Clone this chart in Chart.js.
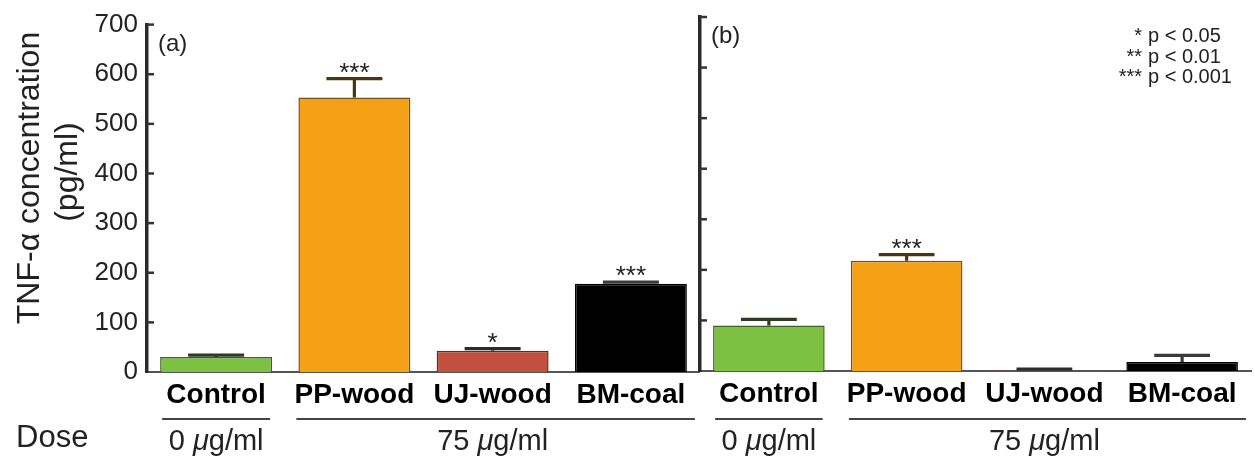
<!DOCTYPE html>
<html>
<head>
<meta charset="utf-8">
<script src="https://cdn.jsdelivr.net/npm/chart.js@4.4.1/dist/chart.umd.min.js"></script>
<style>
  html, body { margin: 0; padding: 0; background: #ffffff; }
  #wrap { position: relative; width: 1255px; height: 457px; overflow: hidden; background: #fff; }
  canvas { position: absolute; top: 0; }
  #chartA { left: 0; }
  #chartB { left: 690px; }
</style>
</head>
<body>
<div id="wrap">
  <canvas id="chartA" width="700" height="457"></canvas>
  <canvas id="chartB" width="565" height="457"></canvas>
</div>
<script>
// ---------------- data ----------------
const categories = ['Control', 'PP-wood', 'UJ-wood', 'BM-coal'];
const valuesA = [30, 553, 43, 178];
const errorsA = [4, 38, 4, 3];
const signifA = ['', '***', '*', '***'];
const valuesB = [90, 218, 1, 18];
const errorsB = [12, 12, 3, 13];
const signifB = ['', '***', '', ''];
const yTickValues = [0, 100, 200, 300, 400, 500, 600, 700];
const doseGroupLabels = ['0 μg/ml', '75 μg/ml'];
const doseGroupRanges = [[0, 0], [1, 3]];
const legendStars = ['*', '**', '***'];
const legendTexts = ['p < 0.05', 'p < 0.01', 'p < 0.001'];
const yTitleLines = ['TNF-α concentration', '(pg/ml)'];
const doseTitle = 'Dose';

// ---------------- styles ----------------
const FONT = '"Liberation Sans", Arial, Helvetica, sans-serif';
const fillColors = ['#7cc142', '#f4a116', '#c1503e', '#000000'];
const edgeColors = ['#3f5f24', '#6f5420', '#5a3026', '#000000'];
const errColors = ['#2f3b22', '#4a3612', '#2b2b2b', '#3a3a3a'];

function drawDose(ctx, label, cx, baseline) {
  const idx = label.indexOf('μ');
  const a = label.slice(0, idx), b = label.slice(idx + 1);
  const reg = '29px ' + FONT, ital = 'italic 29px ' + FONT;
  ctx.font = reg;
  const wa = ctx.measureText(a).width, wb = ctx.measureText(b).width;
  ctx.font = ital;
  const wm = ctx.measureText('μ').width;
  let x0 = cx - (wa + wm + wb) / 2;
  ctx.textAlign = 'left';
  ctx.textBaseline = 'alphabetic';
  ctx.font = reg; ctx.fillText(a, x0, baseline);
  ctx.font = ital; ctx.fillText('μ', x0 + wa, baseline);
  ctx.font = reg; ctx.fillText(b, x0 + wa + wm, baseline);
}

const panelPlugin = {
  id: 'panel',
  afterDatasetsDraw(chart, args, opts) {
    const ctx = chart.ctx;
    const ys = chart.scales.y;
    const area = chart.chartArea;
    const meta = chart.getDatasetMeta(0);
    ctx.save();
    // inward y ticks
    ctx.strokeStyle = '#333';
    ctx.lineWidth = 2.5;
    ctx.lineCap = 'butt';
    yTickValues.forEach(v => {
      if (v === 0) return;
      const py = ys.getPixelForValue(v);
      ctx.beginPath();
      ctx.moveTo(area.left, py);
      ctx.lineTo(area.left + 7, py);
      ctx.stroke();
    });
    // error bars + significance
    meta.data.forEach((bar, i) => {
      const v = opts.values[i], e = opts.errors[i];
      const yBar = ys.getPixelForValue(v);
      const yTop = ys.getPixelForValue(v + e);
      const half = bar.width * 0.25;
      ctx.strokeStyle = errColors[i];
      ctx.lineWidth = 3.2;
      ctx.beginPath();
      ctx.moveTo(bar.x, yBar);
      ctx.lineTo(bar.x, yTop);
      ctx.moveTo(bar.x - half, yTop);
      ctx.lineTo(bar.x + half, yTop);
      ctx.stroke();
      const s = opts.signif[i];
      if (s) {
        ctx.fillStyle = '#222';
        ctx.font = '26px ' + FONT;
        ctx.textAlign = 'center';
        ctx.textBaseline = 'alphabetic';
        ctx.fillText(s, bar.x, yTop + 2);
      }
    });
    ctx.restore();
  },
  afterDraw(chart, args, opts) {
    const ctx = chart.ctx;
    const area = chart.chartArea;
    const meta = chart.getDatasetMeta(0);
    ctx.save();
    ctx.fillStyle = '#222';
    // panel label
    ctx.font = '24px ' + FONT;
    ctx.textAlign = 'left';
    ctx.textBaseline = 'alphabetic';
    ctx.fillText(opts.panelLabel, area.left + 11, area.top + 26);
    // dose groups
    const halfBar = meta.data[0].width / 2;
    doseGroupRanges.forEach((r, gi) => {
      const x1 = meta.data[r[0]].x, x2 = meta.data[r[1]].x;
      const ext = r[0] === r[1] ? 2 : -2;
      ctx.strokeStyle = '#444';
      ctx.lineWidth = 2;
      ctx.beginPath();
      ctx.moveTo(x1 - halfBar + ext, 419);
      ctx.lineTo(x2 + halfBar - ext + (r[0] === r[1] ? 0 : 6), 419);
      ctx.stroke();
      ctx.fillStyle = '#222';
      drawDose(ctx, doseGroupLabels[gi], (x1 + x2) / 2, 450);
    });
    if (opts.first) {
      // y title
      ctx.save();
      ctx.fillStyle = '#222';
      ctx.font = '32px ' + FONT;
      ctx.textAlign = 'center';
      ctx.textBaseline = 'alphabetic';
      ctx.translate(39, 178);
      ctx.rotate(-Math.PI / 2);
      ctx.fillText(yTitleLines[0], 0, 0);
      ctx.fillText(yTitleLines[1], 6, 38);
      ctx.restore();
      ctx.font = '31px ' + FONT;
      ctx.textAlign = 'left';
      ctx.fillText(doseTitle, 16, 447);
    } else {
      // significance legend
      ctx.font = '20px ' + FONT;
      ctx.textBaseline = 'alphabetic';
      legendTexts.forEach((t, k) => {
        const by = 42 + k * 20.5;
        ctx.textAlign = 'right';
        ctx.fillText(legendStars[k], 1142 - 690, by);
        ctx.textAlign = 'left';
        ctx.fillText(t, 1148 - 690, by);
      });
    }
    ctx.restore();
  }
};

function makeChart(id, values, errors, signif, panelLabel, first) {
  return new Chart(document.getElementById(id), {
    type: 'bar',
    data: {
      labels: categories,
      datasets: [{
        data: values,
        backgroundColor: fillColors,
        borderColor: edgeColors,
        borderWidth: 1.5,
        borderSkipped: 'bottom',
        categoryPercentage: 1.0,
        barPercentage: 0.81
      }]
    },
    options: {
      responsive: false,
      animation: false,
      devicePixelRatio: 1,
      layout: { padding: { top: first ? 18 : 17, left: 0, right: first ? 0 : 4, bottom: 0 } },
      plugins: {
        legend: { display: false },
        tooltip: { enabled: false },
        panel: { values, errors, signif, panelLabel, first }
      },
      scales: {
        x: {
          grid: { display: false, drawTicks: false },
          border: { display: true, color: '#555', width: 2 },
          ticks: {
            color: '#000',
            font: { family: FONT, size: 28, weight: 'bold' },
            padding: 6,
            maxRotation: 0,
            autoSkip: false
          },
          afterFit(s) { s.height = first ? 85 : 86; }
        },
        y: {
          min: 0,
          max: 700,
          grid: { display: false, drawTicks: false },
          border: { display: true, color: '#2a2a2a', width: 3.5 },
          afterBuildTicks(s) { s.ticks = yTickValues.map(v => ({ value: v })); },
          ticks: {
            display: first,
            color: '#222',
            font: { family: FONT, size: 26 },
            padding: 9
          },
          afterFit(s) { s.width = first ? 147 : 10; }
        }
      }
    },
    plugins: [panelPlugin]
  });
}

makeChart('chartA', valuesA, errorsA, signifA, '(a)', true);
makeChart('chartB', valuesB, errorsB, signifB, '(b)', false);
</script>
</body>
</html>
